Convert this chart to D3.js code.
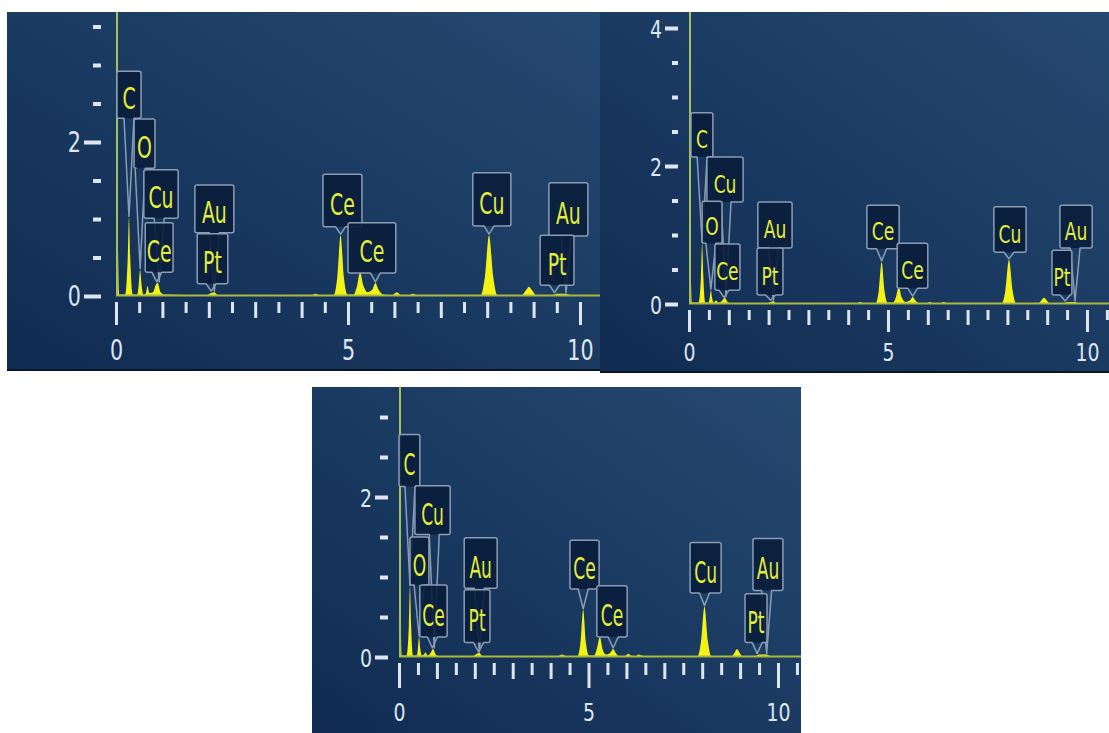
<!DOCTYPE html>
<html>
<head>
<meta charset="utf-8">
<script src="https://d3js.org/d3.v7.min.js"></script>
<style>
  body { margin: 0; background: #ffffff; }
  svg { display: block; }
</style>
</head>
<body>
<div id="chart"></div>
<script>
// EDS spectra, three screenshots (keV vs counts, arbitrary units)

// spectrum points [keV, counts]
const spectrumA = [
  [0.00,2.29],[0.03,1.10],[0.07,0.02],[0.20,0.02],[0.25,0.45],[0.28,1.02],[0.31,0.45],[0.36,0.02],
  [0.46,0.02],[0.49,0.15],[0.52,0.34],[0.55,0.15],[0.59,0.02],[0.64,0.03],[0.68,0.13],[0.72,0.04],
  [0.80,0.05],[0.86,0.15],[0.90,0.17],[0.96,0.05],[1.05,0.02],[1.95,0.01],[2.05,0.04],[2.12,0.05],
  [2.20,0.01],[4.20,0.01],[4.30,0.03],[4.40,0.01],[4.69,0.01],[4.77,0.25],[4.84,0.79],[4.91,0.25],
  [4.99,0.02],[5.12,0.02],[5.19,0.12],[5.26,0.31],[5.33,0.14],[5.42,0.05],[5.52,0.08],[5.59,0.17],
  [5.66,0.08],[5.76,0.02],[5.95,0.01],[6.05,0.05],[6.15,0.01],[6.30,0.01],[6.40,0.03],[6.50,0.01],
  [7.86,0.01],[7.95,0.25],[8.04,0.79],[8.13,0.25],[8.22,0.01],[8.75,0.01],[8.83,0.07],[8.90,0.12],
  [8.97,0.07],[9.05,0.01],[9.40,0.01],[9.50,0.03],[9.70,0.03],[9.80,0.01],[10.60,0.01]
];
const spectrumB = [
  [0.00,2.13],[0.03,1.00],[0.07,0.02],[0.24,0.02],[0.30,0.40],[0.33,0.88],[0.36,0.40],[0.41,0.02],
  [0.49,0.02],[0.52,0.09],[0.55,0.20],[0.58,0.09],[0.62,0.02],[0.68,0.05],[0.74,0.02],[0.82,0.04],
  [0.90,0.09],[0.97,0.03],[1.05,0.01],[1.95,0.01],[2.05,0.03],[2.12,0.04],[2.20,0.01],[4.20,0.01],
  [4.30,0.03],[4.40,0.01],[4.69,0.01],[4.77,0.20],[4.84,0.61],[4.91,0.20],[4.99,0.02],[5.13,0.02],
  [5.20,0.10],[5.27,0.25],[5.34,0.10],[5.44,0.03],[5.55,0.05],[5.62,0.10],[5.69,0.05],[5.78,0.01],
  [5.95,0.01],[6.05,0.03],[6.15,0.01],[6.30,0.01],[6.40,0.03],[6.50,0.01],[7.86,0.01],[7.95,0.20],
  [8.04,0.64],[8.13,0.20],[8.22,0.01],[8.78,0.01],[8.85,0.05],[8.92,0.09],[8.99,0.05],[9.06,0.01],
  [9.40,0.01],[9.50,0.03],[9.70,0.03],[9.80,0.01],[10.70,0.01]
];
const spectrumC = [
  [0.00,2.13],[0.03,1.00],[0.07,0.02],[0.20,0.02],[0.26,0.40],[0.29,0.88],[0.32,0.40],[0.37,0.02],
  [0.47,0.02],[0.50,0.11],[0.53,0.25],[0.56,0.11],[0.60,0.02],[0.66,0.03],[0.70,0.06],[0.75,0.02],
  [0.82,0.04],[0.90,0.10],[0.97,0.03],[1.05,0.01],[1.95,0.01],[2.05,0.04],[2.12,0.05],[2.20,0.01],
  [4.20,0.01],[4.30,0.03],[4.40,0.01],[4.71,0.01],[4.79,0.19],[4.86,0.59],[4.93,0.19],[5.01,0.02],
  [5.15,0.02],[5.22,0.10],[5.30,0.25],[5.37,0.10],[5.46,0.03],[5.57,0.05],[5.65,0.10],[5.72,0.05],
  [5.80,0.01],[5.95,0.01],[6.05,0.04],[6.15,0.01],[6.25,0.01],[6.32,0.03],[6.45,0.01],[7.88,0.01],
  [7.97,0.20],[8.06,0.63],[8.15,0.20],[8.24,0.01],[8.78,0.01],[8.85,0.05],[8.92,0.10],[8.99,0.05],
  [9.06,0.01],[9.40,0.01],[9.50,0.03],[9.70,0.03],[9.80,0.01],[10.70,0.01]
];

// element labels: [name, line energy keV, peak counts]
const calloutsA = [["C",0.28,1.02],["O",0.52,0.34],["Cu",0.93,0.17],["Ce",0.88,0.17],["Au",2.12,0.05],["Pt",2.05,0.05],
  ["Ce",4.84,0.79],["Ce",5.59,0.17],["Cu",8.04,0.79],["Au",9.70,0.03],["Pt",9.45,0.03]];
const calloutsB = [["C",0.33,0.88],["Cu",0.93,0.09],["O",0.55,0.20],["Ce",0.88,0.08],["Au",2.12,0.04],["Pt",2.05,0.04],
  ["Ce",4.84,0.61],["Ce",5.62,0.10],["Cu",8.04,0.64],["Au",9.70,0.03],["Pt",9.45,0.03]];
const calloutsC = [["C",0.29,0.88],["Cu",0.93,0.10],["O",0.53,0.25],["Ce",0.88,0.10],["Au",2.12,0.05],["Pt",2.10,0.05],
  ["Ce",4.86,0.59],["Ce",5.65,0.10],["Cu",8.06,0.63],["Au",9.70,0.03],["Pt",9.45,0.03]];

// tick values
const xLabelTicks = [0, 5, 10];
const yLabelTicksA = [0, 2];
const yLabelTicksB = [0, 2, 4];
const yLabelTicksC = [0, 2];

// label box placement in data units [keV left, keV right, top, bottom]
const boxesA = [[0.02,0.54,2.92,2.31],[0.39,0.84,2.30,1.66],[0.60,1.34,1.64,1.01],[0.63,1.23,0.95,0.31],
  [1.70,2.54,1.44,0.82],[1.75,2.41,0.81,0.16],[4.46,5.30,1.58,0.90],[5.00,6.03,0.95,0.30],
  [7.69,8.51,1.60,0.91],[9.33,10.17,1.47,0.78],[9.14,9.87,0.79,0.14]];
const boxesB = [[0.05,0.60,2.77,2.13],[0.45,1.36,2.13,1.48],[0.33,0.83,1.49,0.88],[0.65,1.28,0.87,0.20],
  [1.73,2.59,1.48,0.81],[1.71,2.36,0.81,0.13],[4.47,5.28,1.43,0.80],[5.23,6.00,0.88,0.23],
  [7.66,8.47,1.41,0.75],[9.32,10.13,1.43,0.81],[9.12,9.62,0.78,0.13]];
const boxesC = [[0.00,0.55,2.78,2.13],[0.42,1.35,2.14,1.53],[0.29,0.79,1.50,0.90],[0.55,1.27,0.90,0.25],
  [1.72,2.59,1.49,0.86],[1.72,2.40,0.84,0.18],[4.51,5.28,1.46,0.85],[5.22,6.02,0.89,0.25],
  [7.68,8.50,1.43,0.80],[9.34,10.13,1.48,0.83],[9.13,9.71,0.79,0.18]];

// panel layout (pixels)
const panels = [
  {left:7, top:12, right:600, bottom:371, xr:[116,580], y0:296, unit:77, yMax:3.5, xMax:10,
   spectrum:spectrumA, callouts:calloutsA, boxes:boxesA, yLabels:yLabelTicksA,
   tickFont:23, labFont:21, labScale:1.45, yGap:15, majLen:17, minLen:8, xLabOff:54, tickLens:[11,16,23]},
  {left:600, top:12, right:1109, bottom:373, xr:[689,1087], y0:304, unit:69, yMax:4, xMax:10.5,
   spectrum:spectrumB, callouts:calloutsB, boxes:boxesB, yLabels:yLabelTicksB,
   tickFont:21, labFont:19, labScale:1.35, yGap:11, majLen:13, minLen:6, xLabOff:48, tickLens:[10,15,22]},
  {left:312, top:387, right:801, bottom:733, xr:[399,778], y0:657, unit:80, yMax:3, xMax:10.5,
   spectrum:spectrumC, callouts:calloutsC, boxes:boxesC, yLabels:yLabelTicksC,
   tickFont:21, labFont:19, labScale:1.6, yGap:11, majLen:13, minLen:8, xLabOff:55, tickLens:[12,16,25]}
];

const svg = d3.select("#chart").append("svg")
  .attr("width", 1109)
  .attr("height", 733);

const defs = svg.append("defs");
const grad = defs.append("linearGradient")
  .attr("id", "panelBg")
  .attr("x1", 0).attr("y1", 1).attr("x2", 1).attr("y2", 0);
grad.append("stop").attr("offset", "0%").attr("stop-color", "#112b51");
grad.append("stop").attr("offset", "50%").attr("stop-color", "#1a3a61");
grad.append("stop").attr("offset", "100%").attr("stop-color", "#264971");

const font = "'DejaVu Sans Condensed', 'DejaVu Sans', sans-serif";

panels.forEach(function(p, i) {
  const g = svg.append("g");

  // background
  g.append("rect")
    .attr("x", p.left).attr("y", p.top)
    .attr("width", p.right - p.left).attr("height", p.bottom - p.top)
    .attr("fill", "url(#panelBg)");
  if (i < 2) {
    g.append("line")
      .attr("x1", p.left).attr("x2", p.right)
      .attr("y1", p.bottom - 1).attr("y2", p.bottom - 1)
      .attr("stroke", "#0a1529").attr("stroke-width", 2);
  }

  defs.append("clipPath").attr("id", "clip" + i)
    .append("rect")
    .attr("x", p.left).attr("y", p.top)
    .attr("width", p.right - p.left).attr("height", p.bottom - p.top);

  const x = d3.scaleLinear().domain([0, 10]).range(p.xr);
  const y = d3.scaleLinear().domain([0, 1]).range([p.y0, p.y0 - p.unit]);

  const inner = g.append("g").attr("clip-path", `url(#clip${i})`);

  // x axis ticks every 0.5 keV
  const xTicks = d3.range(0, p.xMax + 0.01, 0.5);
  const tickLen = d => d % 5 === 0 ? p.tickLens[2] : (d % 1 === 0 ? p.tickLens[1] : p.tickLens[0]);
  const xAxis = inner.append("g")
    .attr("transform", `translate(0,${p.y0 + 6})`)
    .call(d3.axisBottom(x).tickValues(xTicks).tickSize(0).tickSizeOuter(0)
      .tickFormat(d => xLabelTicks.includes(d) ? d : ""));
  xAxis.select(".domain").remove();
  xAxis.selectAll(".tick line")
    .attr("y2", d => tickLen(d))
    .attr("stroke", "#dde6ef")
    .attr("stroke-width", 3);
  xAxis.selectAll(".tick text")
    .attr("y", null).attr("dy", null)
    .attr("dominant-baseline", "central")
    .attr("transform", `translate(0,${p.xLabOff - 6}) scale(1,1.2)`)
    .attr("fill", "#dde6ef")
    .style("font-family", font)
    .style("font-size", p.tickFont + "px");

  // y axis ticks every 0.5
  const yTicks = d3.range(0, p.yMax + 0.01, 0.5);
  const yAxis = inner.append("g")
    .attr("transform", `translate(${x(0) - p.yGap},0)`)
    .call(d3.axisLeft(y).tickValues(yTicks).tickSize(0).tickSizeOuter(0)
      .tickFormat(d => p.yLabels.includes(d) ? d : ""));
  yAxis.select(".domain").remove();
  yAxis.selectAll(".tick line")
    .attr("x2", d => p.yLabels.includes(d) ? -p.majLen : -p.minLen)
    .attr("stroke", "#dde6ef")
    .attr("stroke-width", 4);
  yAxis.selectAll(".tick text")
    .attr("x", null).attr("dy", null)
    .attr("dominant-baseline", "central")
    .attr("text-anchor", "end")
    .attr("transform", `translate(${-p.majLen - 3},0) scale(1,1.2)`)
    .attr("fill", "#dde6ef")
    .style("font-family", font)
    .style("font-size", p.tickFont + "px");

  // spectrum
  const area = d3.area()
    .x(d => x(d[0]))
    .y0(y(0))
    .y1(d => y(d[1]))
    .curve(d3.curveMonotoneX);
  inner.append("path")
    .datum(p.spectrum)
    .attr("d", area)
    .attr("fill", "#f2f215");

  // baseline and the zero-energy marker line
  inner.append("line")
    .attr("x1", x(0)).attr("x2", p.right)
    .attr("y1", y(0) - 0.5).attr("y2", y(0) - 0.5)
    .attr("stroke", "#a9b83e").attr("stroke-width", 2);
  inner.append("line")
    .attr("x1", x(0) + 1).attr("x2", x(0) + 1)
    .attr("y1", y(0)).attr("y2", p.top)
    .attr("stroke", "#a6c05c").attr("stroke-width", 2);

  // element callouts
  p.callouts.forEach(function(c, k) {
    const b = p.boxes[k];
    const x0 = x(b[0]), x1 = x(b[1]), yt = y(b[2]), yb = y(b[3]);
    const tx = x(c[1]), ty = y(c[2]) - 1;
    const cx = Math.max(x0 + 6, Math.min(x1 - 6, tx));
    const cg = inner.append("g");
    cg.append("rect")
      .attr("x", x0).attr("y", yt)
      .attr("width", x1 - x0).attr("height", yb - yt)
      .attr("rx", 2)
      .attr("fill", "#0a1d3b").attr("fill-opacity", 0.9);
    cg.append("path")
      .attr("d", `M${cx - 5},${yb} H${x0 + 2} Q${x0},${yb} ${x0},${yb - 2} V${yt + 2} Q${x0},${yt} ${x0 + 2},${yt}` +
        ` H${x1 - 2} Q${x1},${yt} ${x1},${yt + 2} V${yb - 2} Q${x1},${yb} ${x1 - 2},${yb} H${cx + 5} L${tx},${ty} Z`)
      .attr("fill", "none")
      .attr("stroke", "#8b9db4")
      .attr("stroke-width", 1.5)
      .attr("stroke-linejoin", "round");
    cg.append("text")
      .attr("transform", `translate(${(x0 + x1) / 2},${(yt + yb) / 2 + 4}) scale(1,${p.labScale})`)
      .attr("text-anchor", "middle")
      .attr("dominant-baseline", "central")
      .attr("fill", "#e4ee3a")
      .style("font-family", font)
      .style("font-size", p.labFont + "px")
      .text(c[0]);
  });
});
</script>
</body>
</html>
